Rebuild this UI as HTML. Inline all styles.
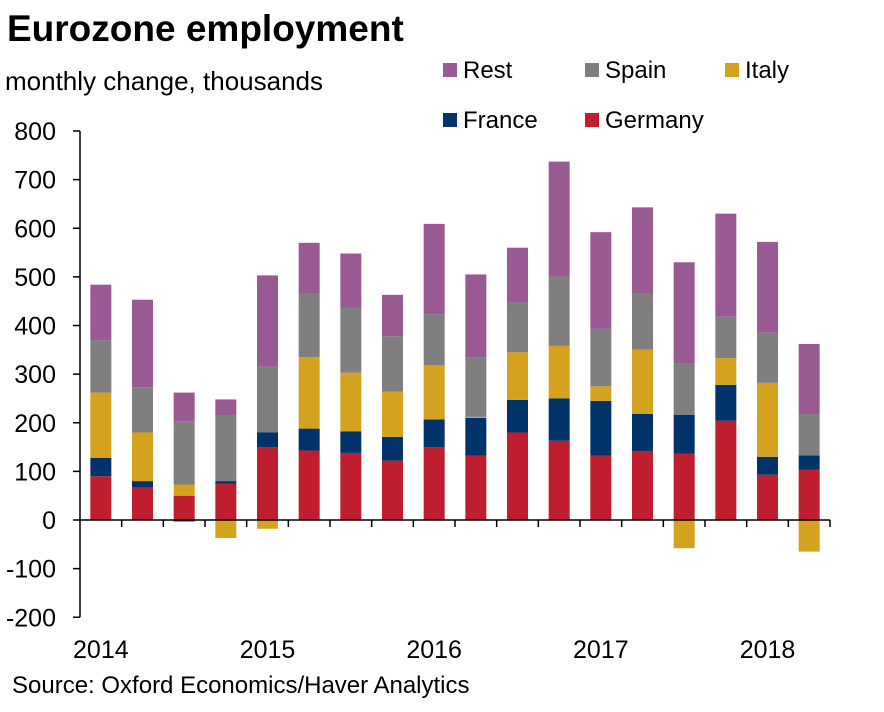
<!DOCTYPE html>
<html><head><meta charset="utf-8"><style>
body{margin:0;background:#fff;font-family:"Liberation Sans",Arial,sans-serif}
svg text{font-family:"Liberation Sans",Arial,sans-serif}
</style></head><body>
<svg width="884" height="707" id="c">
<text x="7" y="41" font-size="37" font-weight="bold" fill="#000">Eurozone employment</text>
<text x="5" y="90" font-size="26" fill="#000">monthly change, thousands</text>
<text x="12" y="693" font-size="24" fill="#000">Source: Oxford Economics/Haver Analytics</text>
<g id="plot"></g>
<g id="legend"></g>
</svg>
<script>
const categories=["2014Q1","2014Q2","2014Q3","2014Q4","2015Q1","2015Q2","2015Q3","2015Q4","2016Q1","2016Q2","2016Q3","2016Q4","2017Q1","2017Q2","2017Q3","2017Q4","2018Q1","2018Q2"];
const germany=[90,67,50,75,150,143,138,122,150,132,180,163,132,142,136,204,93,103];
const france=[38,13,-3,5,30,45,44,49,57,78,67,87,113,76,80,74,37,30];
const italy=[134,100,23,-37,-18,147,121,93,111,2,98,108,30,132,-58,55,152,-65];
const spain=[108,93,130,135,135,130,134,114,105,123,102,142,118,115,106,85,103,85];
const rest=[114,180,59,33,188,105,111,85,186,170,113,237,199,178,208,212,187,144];
const yTicks=[800,700,600,500,400,300,200,100,0,-100,-200];
const yearLabels=["2014","2015","2016","2017","2018"];
const yearIdx=[0,4,8,12,16];
const series=[["germany",germany,"#be1e2d","Germany"],["france",france,"#00336a","France"],["italy",italy,"#d4a21f","Italy"],["spain",spain,"#7f7f7f","Spain"],["rest",rest,"#995a94","Rest"]];
const X0=80,X1=830,Y0=520,PPU=389/800;
const y=v=>Y0-v*PPU;
const step=(X1-X0)/categories.length;
const cx=i=>X0+step*(i+0.5);
const NS="http://www.w3.org/2000/svg";
const plot=document.getElementById('plot');
function mk(t,a){const e=document.createElementNS(NS,t);for(const k in a)e.setAttribute(k,a[k]);return e;}
let ax=mk('line',{x1:X0,x2:X0,y1:y(800),y2:y(-200),stroke:'#000','stroke-width':1.5});


plot.appendChild(ax);
yTicks.forEach(t=>{
 const l=mk('line',{x1:X0-7,x2:X0,y1:y(t),y2:y(t),stroke:'#000','stroke-width':1.5});
 
 
 plot.appendChild(l);
 const tx=mk('text',{x:56,y:y(t)+9,'font-size':25,'text-anchor':'end'});
 tx.textContent=t;
 
 
 plot.appendChild(tx);
});
const bw=21;
categories.forEach((c,i)=>{
 let pos=0,neg=0;
 series.forEach(s=>{
  const v=s[1][i];let a,b;
  if(v>=0){a=pos;b=pos+v;pos=b;}else{a=neg+v;b=neg;neg=a;}
  const r=mk('rect',{x:cx(i)-bw/2,y:y(b),width:bw,height:Math.max(0,y(a)-y(b)),fill:s[2]});
  
  
  plot.appendChild(r);
 });
});
let xa=mk('line',{x1:X0,x2:X1,y1:Y0,y2:Y0,stroke:'#000','stroke-width':1.5});


plot.appendChild(xa);
for(let i=1;i<=categories.length;i++){
 const l=mk('line',{x1:X0+step*i,x2:X0+step*i,y1:Y0,y2:Y0+7,stroke:'#000','stroke-width':1.5});
 
 
 plot.appendChild(l);
}
yearLabels.forEach((yl,k)=>{
 const tx=mk('text',{x:cx(yearIdx[k]),y:658,'font-size':25,'text-anchor':'middle'});
 tx.textContent=yl;
 
 
 plot.appendChild(tx);
});
const lg=document.getElementById('legend');
const legendItems=[["Rest","#995a94",443,70],["Spain","#7f7f7f",585,70],["Italy","#d4a21f",725,70],["France","#00336a",443,120],["Germany","#be1e2d",585,120]];
legendItems.forEach(it=>{
 const g=mk('g',{});
 
 
 g.appendChild(mk('rect',{x:it[2],y:it[3]-7,width:14,height:14,fill:it[1]}));
 const t=mk('text',{x:it[2]+20,y:it[3]+8,'font-size':24});
 t.textContent=it[0];
 g.appendChild(t);
 lg.appendChild(g);
});
</script>
</body></html>
